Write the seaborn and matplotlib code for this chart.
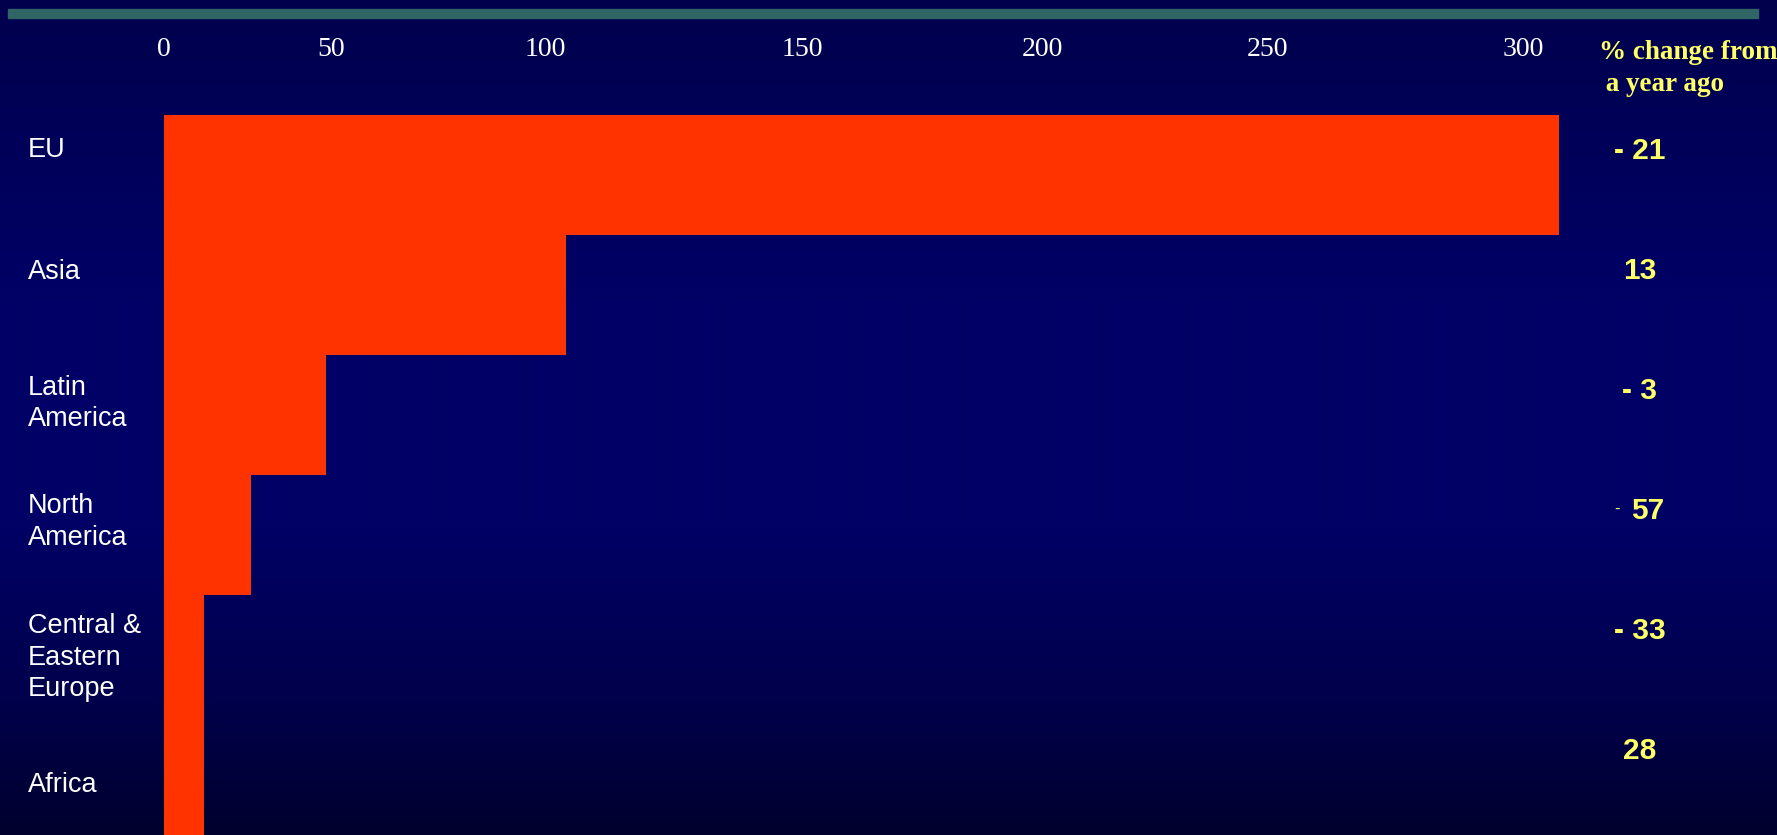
import numpy as np
import pandas as pd
import matplotlib
matplotlib.use("Agg")
import matplotlib.pyplot as plt
import matplotlib.transforms as mtransforms
from matplotlib.patches import Rectangle
import seaborn as sns

# ---------------- data ----------------
regions = ["EU", "Asia", "Latin\nAmerica", "North\nAmerica",
           "Central &\nEastern\nEurope", "Africa"]
values = [307, 104, 48.5, 26, 12, 12]
pct_change = [-21, 13, -3, -57, -33, 28]
small_sign = [False, False, False, True, False, False]
tick_values = [0, 50, 100, 150, 200, 250, 300]
header_lines = ["% change from", " a year ago"]

# ---------------- layout / style ----------------
W, H = 1777, 835
# pixel positions of the (unevenly spaced) value-axis labels in the original
tick_px = [164, 331, 545, 802, 1042, 1267, 1523]
label_offsets = [-0.15, -0.135, -0.17, -0.185, -0.185, 0.145]
line_step = 0.265
pct_offset = -0.135
bar_color = "#FF3300"
yellow = "#FFFF66"

kv = np.array(tick_values, float)
kp = np.array(tick_px, float)
s0 = (kp[1] - kp[0]) / (kv[1] - kv[0])
s1 = (kp[-1] - kp[-2]) / (kv[-1] - kv[-2])
kv_ext = np.concatenate([[kv[0] - 1e5], kv, [kv[-1] + 1e5]])
kp_ext = np.concatenate([[kp[0] - 1e5 * s0], kp, [kp[-1] + 1e5 * s1]])


def fwd(v):
    return np.interp(v, kv_ext, kp_ext)


def inv(p):
    return np.interp(p, kp_ext, kv_ext)


fig = plt.figure(figsize=(W / 100, H / 100), dpi=100)

# background gradient
bg = fig.add_axes([0, 0, 1, 1], zorder=-5)
ys = np.arange(H)
blue = np.interp(ys, [0, 300, 520, 700, 835], [0x4d, 0x66, 0x66, 0x4b, 0x2e]) / 255.0
grad = np.zeros((H, 1, 3))
grad[:, 0, 2] = blue
bg.imshow(grad, aspect="auto", extent=[0, 1, 0, 1], interpolation="bilinear")
bg.set_axis_off()

# top band
fig.add_artist(Rectangle((8 / W, 1 - 18 / H), 1750 / W, 9 / H,
                         transform=fig.transFigure, color="#2f6565", zorder=1))

ax = fig.add_axes([164 / W, 0, (W - 164) / W, 720 / H], zorder=2)
ax.set_xscale("function", functions=(fwd, inv))
df = pd.DataFrame({"region": regions, "value": values})
sns.barplot(data=df, x="value", y="region", orient="h", width=1.0,
            color=bar_color, saturation=1, linewidth=0, ax=ax)
ax.set_xlim(0, float(inv(W)))
ax.set_ylim(len(regions) - 0.5, -0.5)
ax.patch.set_alpha(0)
for sp in ax.spines.values():
    sp.set_visible(False)
ax.set_xlabel("")
ax.set_ylabel("")
ax.set_yticks([])
ax.set_xticks(tick_values)
ax.set_xticklabels([str(t) for t in tick_values])
ax.xaxis.set_minor_locator(matplotlib.ticker.NullLocator())
ax.tick_params(axis="x", top=True, labeltop=True, bottom=False, labelbottom=False,
               length=0, pad=38, labelsize=20, labelcolor="white")
for lab in ax.get_xticklabels():
    lab.set_fontfamily("Liberation Serif")

trans_left = mtransforms.blended_transform_factory(fig.transFigure, ax.transData)
for i, name in enumerate(regions):
    for j, line in enumerate(name.split("\n")):
        ax.text(28 / W, i + label_offsets[i] + j * line_step, line,
                transform=trans_left, ha="left", va="baseline",
                fontsize=19.5, fontfamily="Liberation Sans", color="white")

for i, v in enumerate(pct_change):
    y = i + pct_offset
    if v < 0 and small_sign[i]:
        ax.text(1648 / W, y, f"{abs(v)}", transform=trans_left, ha="center",
                va="baseline", fontsize=21.5, fontweight="bold",
                fontfamily="Liberation Sans", color=yellow)
        ax.text(1617 / W, y - 0.045, "-", transform=trans_left, ha="center",
                va="baseline", fontsize=12, fontfamily="Liberation Sans",
                color=yellow)
    else:
        txt = f"- {abs(v)}" if v < 0 else f"{v}"
        ax.text(1640 / W, y, txt, transform=trans_left, ha="center",
                va="baseline", fontsize=21.5, fontweight="bold",
                fontfamily="Liberation Sans", color=yellow)

for k, line in enumerate(header_lines):
    fig.text(1599 / W, 1 - (59 + 32 * k) / H, line, ha="left", va="baseline",
             fontsize=19.5, fontweight="bold", fontfamily="Liberation Serif",
             color=yellow)

fig.savefig("out.png", dpi=100)
